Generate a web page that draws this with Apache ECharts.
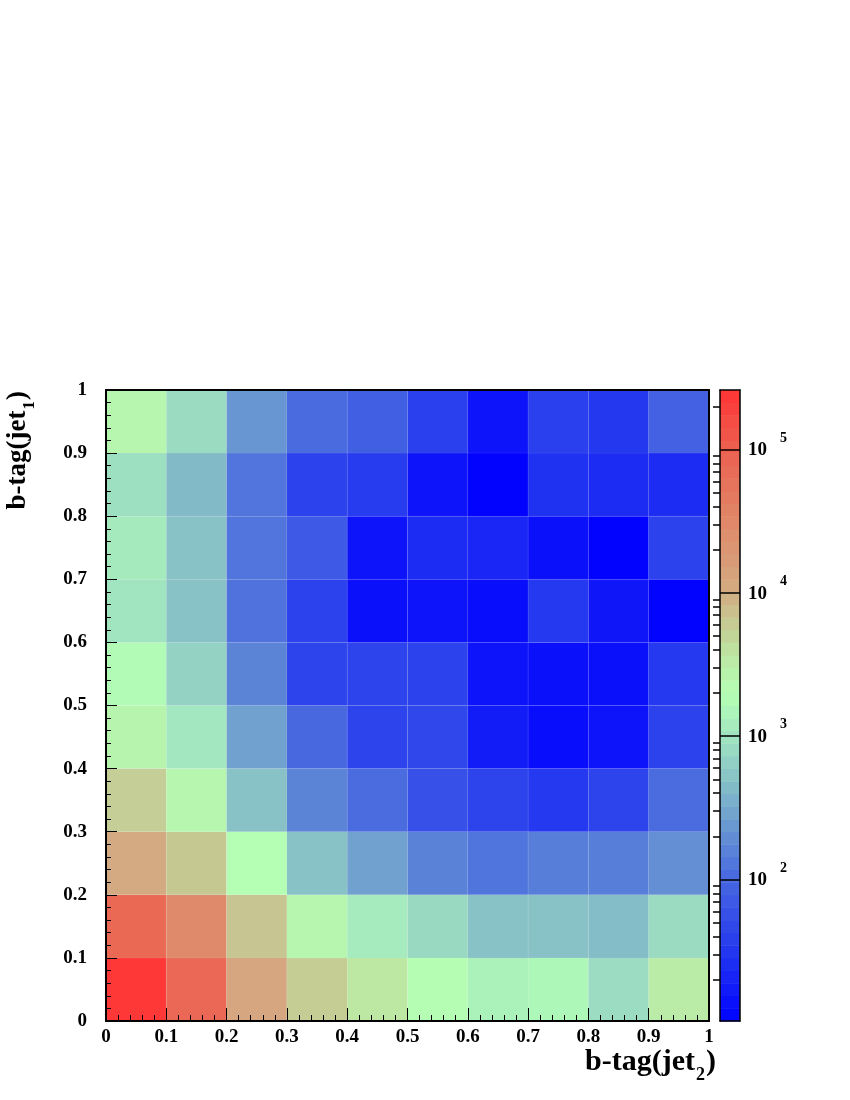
<!DOCTYPE html>
<html><head><meta charset="utf-8">
<script src="https://cdn.jsdelivr.net/npm/echarts@6/dist/echarts.min.js"></script>
<style>html,body{margin:0;padding:0;background:#fff}#c{width:850px;height:1100px}</style>
</head><body><div id="c"></div>
<script>
// bin low edges (both axes) and bin width
const binLow = [0, 0.1, 0.2, 0.3, 0.4, 0.5, 0.6, 0.7, 0.8, 0.9];
const binWidth = 0.1;
// counts per row (y bin), columns follow binLow on x
const rowY0 = [240000, 80000, 12000, 5900, 3500, 2100, 1400, 1600, 850, 3200];
const rowY1 = [78000, 28000, 6600, 2500, 1200, 800, 500, 500, 450, 830];
const rowY2 = [11000, 6300, 2000, 500, 280, 160, 125, 150, 148, 200];
const rowY3 = [5600, 2500, 500, 165, 107, 56, 42, 33, 42, 107];
const rowY4 = [2600, 1070, 280, 100, 42, 46, 18, 13, 15, 40];
const rowY5 = [1800, 700, 165, 42, 42, 40, 15, 14, 14, 33];
const rowY6 = [1000, 500, 120, 40, 14, 15, 13, 33, 16, 10.7];
const rowY7 = [1170, 500, 126, 71, 15, 25, 22, 14, 10.5, 40];
const rowY8 = [890, 430, 126, 40, 35, 15, 10.5, 28, 25, 25];
const rowY9 = [2500, 830, 225, 105, 80, 38, 15, 38, 32, 85];
const rows = [rowY0, rowY1, rowY2, rowY3, rowY4, rowY5, rowY6, rowY7, rowY8, rowY9];
// color scale range (counts) and decade labels
const zMin = 10.3, zMax = 2.6e5;
const decadeExponents = [2, 3, 4, 5];

const LOGMIN = Math.log10(zMin), LOGMAX = Math.log10(zMax);

// palette (log10 value -> color)
const paletteStops = [
  [1.0, '#0000ff'], [1.5, '#2438f0'], [2.0, '#4868e0'], [2.4, '#6c9cd0'],
  [2.7, '#88c2c6'], [3.0, '#a0e4c0'], [3.3, '#b4ffb4'], [3.55, '#bce8a4'],
  [3.8, '#c6c892'], [4.05, '#d4a880'], [4.5, '#e08868'], [5.0, '#ec6050'], [5.41, '#ff3535']
];
function hex2rgb(h){return [parseInt(h.slice(1,3),16),parseInt(h.slice(3,5),16),parseInt(h.slice(5,7),16)];}
function paletteAt(v){
  if (v <= paletteStops[0][0]) return paletteStops[0][1];
  for (let i=1;i<paletteStops.length;i++){
    if (v <= paletteStops[i][0]){
      const [a, ca] = paletteStops[i-1], [b, cb] = paletteStops[i];
      const t = (v-a)/(b-a), A = hex2rgb(ca), B = hex2rgb(cb);
      return 'rgb(' + A.map((x,k)=>Math.round(x+(B[k]-x)*t)).join(',') + ')';
    }
  }
  return paletteStops[paletteStops.length-1][1];
}
const NCOL = 80;
const paletteColors = [];
for (let i=0;i<NCOL;i++) paletteColors.push(paletteAt(LOGMIN + (LOGMAX-LOGMIN)*i/(NCOL-1)));

// heat cells
const cells = [];
rows.forEach((row, iy) => row.forEach((c, ix) => cells.push([binLow[ix], binLow[iy], Math.log10(c)])));

// colorbar bands
const NBAND = 50;
const bands = [];
for (let i=0;i<NBAND;i++){
  const lo = LOGMIN + (LOGMAX-LOGMIN)*i/NBAND, hi = LOGMIN + (LOGMAX-LOGMIN)*(i+1)/NBAND;
  bands.push([lo, hi, (lo+hi)/2]);
}
// minor log ticks
const minorTicks = [];
for (let e=1;e<=5;e++) for (let k=2;k<=9;k++){ const v = Math.log10(k*Math.pow(10,e)); if (v>LOGMIN && v<LOGMAX) minorTicks.push(v); }

const FONT = '"Liberation Serif", "Times New Roman", serif';
const labelStyle = {fontFamily: FONT, fontWeight: 'bold', fontSize: 19, color: '#000'};

const chart = echarts.init(document.getElementById('c'), null, {renderer: 'canvas'});
const frame = (grid, pos, w) => ({
  gridIndex: grid, type: 'value', min: 0, max: 1, position: pos, z: 10,
  axisLine: {show: true, onZero: false, lineStyle: {color: '#000', width: w}},
  axisTick: {show: false}, axisLabel: {show: false}, splitLine: {show: false}
});
chart.setOption({
  animation: false,
  backgroundColor: '#fff',
  grid: [
    {left: 106, top: 390, width: 603, height: 631, outerBoundsMode: 'none'},
    {left: 720, top: 390, width: 20, height: 631, outerBoundsMode: 'none'}
  ],
  visualMap: {
    type: 'continuous', show: false, min: LOGMIN, max: LOGMAX, dimension: 2,
    seriesIndex: [0, 1], inRange: {color: paletteColors}
  },
  xAxis: [
    {
      gridIndex: 0, type: 'value', min: 0, max: 1, interval: 0.1, position: 'bottom', z: 10,
      axisLine: {show: true, onZero: false, lineStyle: {color: '#000', width: 2}},
      axisTick: {show: true, inside: true, length: 13, lineStyle: {color: '#000', width: 1}},
      minorTick: {show: true, splitNumber: 5, length: 6, lineStyle: {color: '#000', width: 1}},
      splitLine: {show: false},
      axisLabel: Object.assign({margin: 7}, labelStyle)
    },
    frame(0, 'top', 2),
    frame(1, 'bottom', 1.5),
    frame(1, 'top', 1.5)
  ],
  yAxis: [
    {
      gridIndex: 0, type: 'value', min: 0, max: 1, interval: 0.1, position: 'left', z: 10,
      axisLine: {show: true, onZero: false, lineStyle: {color: '#000', width: 2}},
      axisTick: {show: true, inside: true, length: 11, lineStyle: {color: '#000', width: 1}},
      minorTick: {show: true, splitNumber: 5, length: 5, lineStyle: {color: '#000', width: 1}},
      splitLine: {show: false},
      axisLabel: Object.assign({margin: 19}, labelStyle)
    },
    frame(0, 'right', 2),
    {
      gridIndex: 1, type: 'value', min: LOGMIN, max: LOGMAX, position: 'right', z: 10,
      axisLine: {show: true, onZero: false, lineStyle: {color: '#000', width: 1.5}},
      axisTick: {show: true, inside: true, length: 20, customValues: decadeExponents, lineStyle: {color: '#000', width: 1.5}},
      splitLine: {show: false},
      axisLabel: {
        show: true, margin: 8, customValues: decadeExponents,
        formatter: v => '{b|10}{s|' + Math.round(v) + '}',
        rich: {
          b: {fontFamily: FONT, fontWeight: 'bold', fontSize: 19, lineHeight: 21, verticalAlign: 'bottom', color: '#000'},
          s: {fontFamily: FONT, fontWeight: 'bold', fontSize: 14, lineHeight: 6, verticalAlign: 'bottom', padding: [0, 0, 15, 13], color: '#000'}
        }
      }
    },
    {
      gridIndex: 1, type: 'value', min: LOGMIN, max: LOGMAX, position: 'right', z: 10,
      axisLine: {show: false},
      axisTick: {show: true, inside: true, length: 7, customValues: minorTicks, lineStyle: {color: '#000', width: 1.5}},
      axisLabel: {show: false}, splitLine: {show: false}
    },
    {
      gridIndex: 1, type: 'value', min: LOGMIN, max: LOGMAX, position: 'left', z: 10,
      axisLine: {show: true, onZero: false, lineStyle: {color: '#000', width: 1.5}},
      axisTick: {show: false}, axisLabel: {show: false}, splitLine: {show: false}
    }
  ],
  series: [
    {
      type: 'custom', xAxisIndex: 0, yAxisIndex: 0, data: cells, encode: {x: 0, y: 1},
      renderItem: (params, api) => {
        const x = api.value(0), y = api.value(1);
        const p0 = api.coord([x, y]), p1 = api.coord([x + binWidth, y + binWidth]);
        return {type: 'rect', shape: {x: p0[0], y: p1[1], width: p1[0] - p0[0], height: p0[1] - p1[1]},
                style: {fill: api.visual('color'), stroke: 'rgba(255,255,255,0.06)', lineWidth: 1}};
      }
    },
    {
      type: 'custom', xAxisIndex: 2, yAxisIndex: 2, data: bands, encode: {y: [0, 1]},
      renderItem: (params, api) => {
        const lo = api.value(0), hi = api.value(1);
        const p0 = api.coord([0, lo]), p1 = api.coord([1, hi]);
        return {type: 'rect', shape: {x: p0[0], y: p1[1], width: p1[0] - p0[0], height: p0[1] - p1[1] + 0.5},
                style: {fill: api.visual('color')}};
      }
    }
  ],
  graphic: [
    {
      type: 'text', x: 716, y: 1047, z: 20,
      style: {
        text: '{a|b-tag(jet}{s|2}{a|)}', align: 'right', verticalAlign: 'top',
        rich: {
          a: {fontFamily: FONT, fontWeight: 'bold', fontSize: 30, lineHeight: 32, verticalAlign: 'top', fill: '#000'},
          s: {fontFamily: FONT, fontWeight: 'bold', fontSize: 18, lineHeight: 20, verticalAlign: 'top', padding: [19, 1, 0, 1], fill: '#000'}
        }
      }
    },
    {
      type: 'text', x: 20, y: 391, rotation: Math.PI / 2, z: 20,
      style: {
        text: '{a|b-tag(jet}{s|1}{a|)}', align: 'right', verticalAlign: 'middle',
        rich: {
          a: {fontFamily: FONT, fontWeight: 'bold', fontSize: 27, lineHeight: 30, verticalAlign: 'top', fill: '#000'},
          s: {fontFamily: FONT, fontWeight: 'bold', fontSize: 17, lineHeight: 20, verticalAlign: 'top', padding: [16, 1, 0, 1], fill: '#000'}
        }
      }
    }
  ]
});
</script>
</body></html>
